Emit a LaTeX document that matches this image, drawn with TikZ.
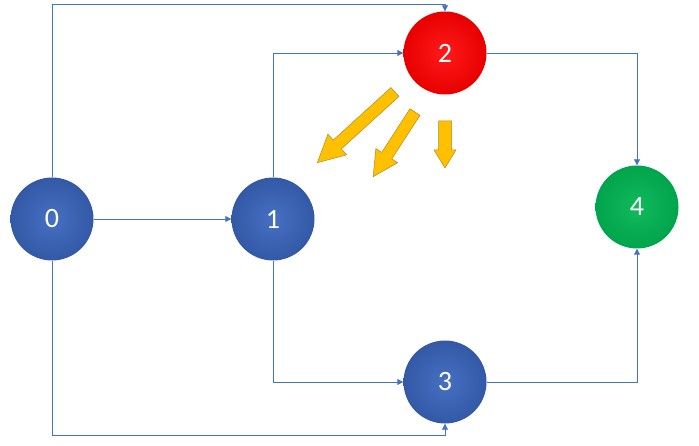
\documentclass[tikz,border=0pt]{standalone}
\usepackage{fontspec}
\setmainfont{Carlito}
\usetikzlibrary{arrows.meta}
\definecolor{lineblue}{HTML}{4472C4}
\definecolor{nblueIn}{HTML}{4670C2}
\definecolor{nblueOut}{HTML}{3359A6}
\definecolor{nredIn}{HTML}{FF1A1A}
\definecolor{nredOut}{HTML}{E80000}
\definecolor{ngreenIn}{HTML}{12BA5C}
\definecolor{ngreenOut}{HTML}{00A44C}
\definecolor{yel}{HTML}{FFC000}
\definecolor{yelline}{HTML}{B08A20}
\tikzset{
  vtx/.style={circle, minimum size=83pt, inner sep=0pt, text=white, font=\fontsize{28}{28}\selectfont},
  bluev/.style={vtx, inner color=nblueIn, outer color=nblueOut},
  redv/.style={vtx, inner color=nredIn, outer color=nredOut},
  greenv/.style={vtx, inner color=ngreenIn, outer color=ngreenOut},
  conn/.style={draw=lineblue, line width=0.9pt, -{Triangle[length=6pt,width=6pt]}},
  blockarr/.style={fill=yel, draw=yelline, line width=0.5pt, line join=miter}
}
% #1 tail x, #2 tail y, #3 angle, #4 length, #5 shaft half width, #6 head half width, #7 head length
\newcommand\myblockarrow[7]{%
  \begin{scope}[shift={(#1,#2)}, rotate=#3]
    \path[blockarr] (0,#5) -- ({#4-#7},#5) -- ({#4-#7},#6) -- (#4,0) -- ({#4-#7},-#6) -- ({#4-#7},-#5) -- (0,-#5) -- cycle;
  \end{scope}}
\begin{document}
\begin{tikzpicture}[x=1pt,y=1pt]
\useasboundingbox (0,0) rectangle (699,445);
\node[bluev]  (n0) at (52,226)  {0};
\node[bluev]  (n1) at (273,226) {1};
\node[redv]   (n2) at (445,392) {2};
\node[bluev]  (n3) at (445,63)  {3};
\node[greenv] (n4) at (637,238) {4};
\coordinate (top) at (0,441);
\coordinate (bot) at (0,10);
\draw[conn] (n0.north) -- (n0.north |- top) -| (n2.north);
\draw[conn] (n0) -- (n1);
\draw[conn] (n0.south) -- (n0.south |- bot) -| (n3.south);
\draw[conn] (n1.north) |- (n2.west);
\draw[conn] (n1.south) |- (n3.west);
\draw[conn] (n2.east) -| (n4.north);
\draw[conn] (n3.east) -| (n4.south);
\myblockarrow{395}{353}{222.3}{105}{6}{14}{27}
\myblockarrow{415}{333}{237.1}{77}{6}{13}{25}
\myblockarrow{445}{324}{270}{47}{6.5}{11}{18}
\end{tikzpicture}
\end{document}
